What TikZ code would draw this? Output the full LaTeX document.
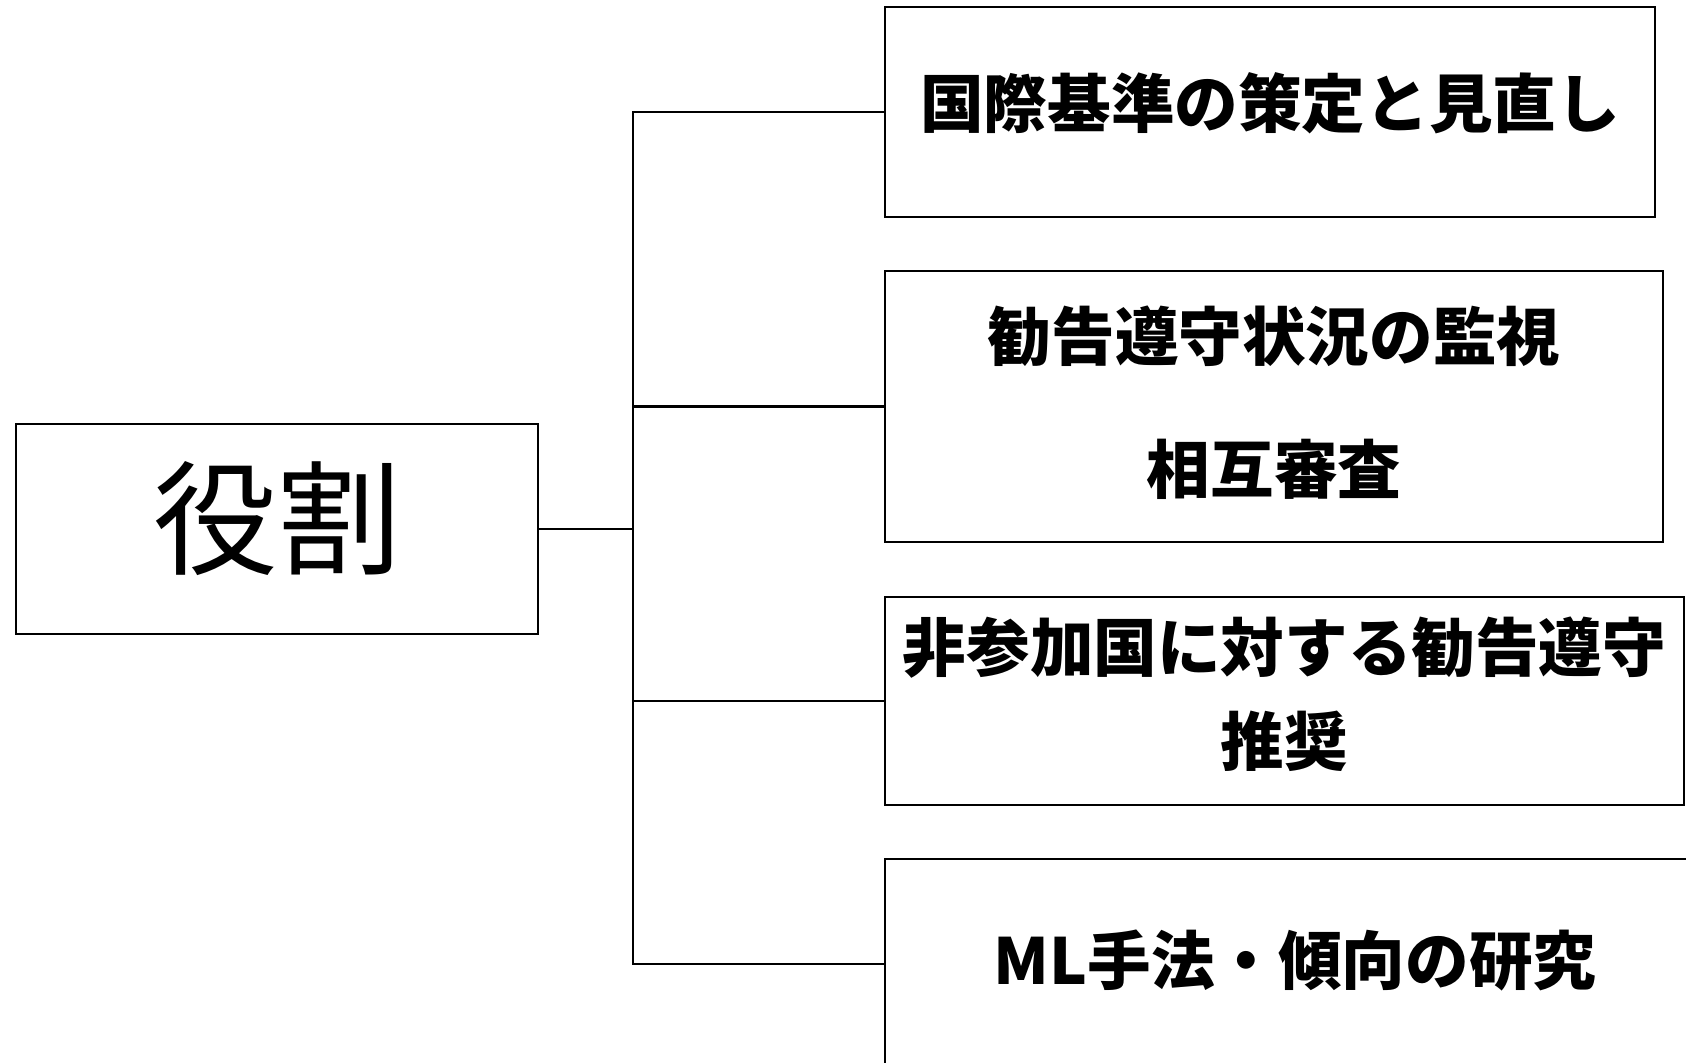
\documentclass[tikz,border=0pt]{standalone}
\usepackage{fontspec}
\setmainfont{Noto Sans CJK JP}
\begin{document}
\begin{tikzpicture}[x=0.5pt,y=-0.5pt,
  box/.style={draw=black,line width=1.1pt,inner sep=0pt,anchor=center},
  link/.style={draw=black,line width=1.1pt},
  rtext/.style={inner sep=0pt,align=center,anchor=center}]
\useasboundingbox (0,0) rectangle (1686,1063);
\clip (0,0) rectangle (1686,1063);
% boxes
\node[box,minimum width=261pt,minimum height=105pt] (root) at (277,529) {};
\node[box,minimum width=385pt,minimum height=105pt] (b1) at (1270,112) {};
\node[box,minimum width=389pt,minimum height=135.5pt] (b2) at (1274,406.5) {};
\node[box,minimum width=399.5pt,minimum height=104pt] (b3) at (1284.5,701) {};
\node[box,minimum width=410pt,minimum height=105pt] (b4) at (1295,964) {};
% texts
\node[rtext,font=\fontsize{62pt}{70pt}\selectfont] (t0) at ([yshift=5.4pt]root.center) {役割};
\node[rtext,font=\fontsize{31.8pt}{38pt}\selectfont\bfseries] (t1) at ([yshift=4.3pt]b1.center) {国際基準の策定と見直し};
\node[rtext,font=\fontsize{31.8pt}{66.7pt}\selectfont\bfseries] (t2) at ([yshift=1.9pt]b2.center) {勧告遵守状況の監視\\相互審査};
\node[rtext,font=\fontsize{31.8pt}{46.8pt}\selectfont\bfseries] (t3) at ([yshift=3.5pt]b3.center) {非参加国に対する勧告遵守\\推奨};
\node[rtext,font=\fontsize{31.8pt}{38pt}\selectfont\bfseries] (t4) at ([yshift=2pt]b4.center) {ML手法・傾向の研究};
% connectors
\coordinate (j) at (633,529);
\draw[link] (root.east) -- (j);
\draw[link] (b1.west) -| (j);
\draw[link] (b2.west) -| (j);
\draw[link] (b3.west) -| (j);
\draw[link] (b4.west) -| (j);
\end{tikzpicture}
\end{document}
